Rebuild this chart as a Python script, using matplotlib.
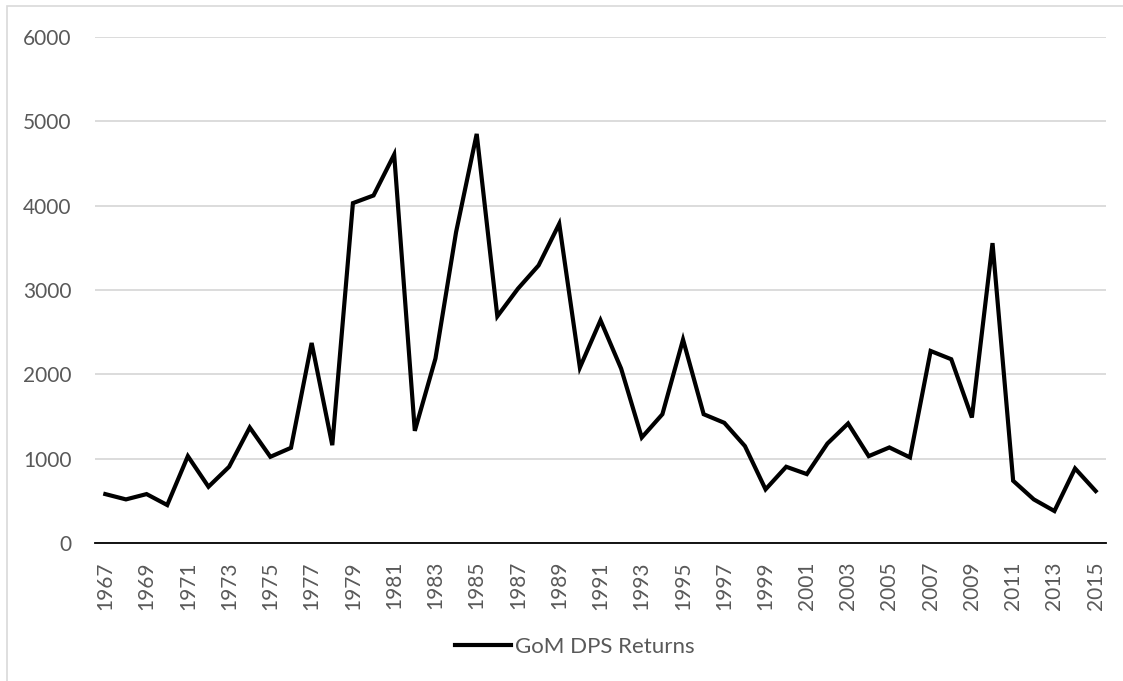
import matplotlib
matplotlib.use("Agg")
from matplotlib import pyplot as plt
from matplotlib.patches import Rectangle
from numpy import arange

years = list(range(1967, 2016))
returns = [580, 517, 580, 450, 1030, 667, 904, 1370, 1022, 1129,
           2372, 1160, 4030, 4121, 4606, 1330, 2187, 3686, 4851, 2688,
           3016, 3292, 3785, 2080, 2641, 2068, 1251, 1527, 2412, 1527,
           1425, 1149, 636, 904, 817, 1180, 1417, 1030, 1133, 1015,
           2277, 2179, 1488, 3556, 738, 517, 379, 884, 616]
series_name = "GoM DPS Returns"
y_ticks = [0, 1000, 2000, 3000, 4000, 5000, 6000]

plt.rcParams['font.family'] = ['Lato', 'DejaVu Sans']
text_color = '#595959'
grid_color = '#d9d9d9'

W, H = 1123, 681
fig = plt.figure(figsize=(W / 100, H / 100), dpi=100)
ax = fig.add_axes([95 / W, 1 - 543 / H, (1106 - 95) / W, (543 - 37) / H])

# outer chart border (only top and left show in the picture)
fig.patches.append(Rectangle((6.5 / W, -0.1), 1.2, 1.1 - 6.5 / H,
                             transform=fig.transFigure, fill=False,
                             edgecolor=grid_color, linewidth=1.2,
                             clip_on=False))

pos = arange(len(years))
line, = ax.plot(pos, returns, color='black', linewidth=3.0,
                solid_joinstyle='miter', label=series_name)

ax.set_xlim(-0.5, len(years) - 0.5)
ax.set_ylim(0, 6000)
ax.set_yticks(y_ticks)
ax.set_yticklabels([str(v) for v in y_ticks])
ax.set_xticks(pos[::2])
ax.set_xticklabels([str(y) for y in years[::2]], rotation=90)

ax.grid(axis='y', color=grid_color, linewidth=1.3)
ax.set_axisbelow(True)
for side in ['top', 'right', 'left']:
    ax.spines[side].set_visible(False)
ax.spines['bottom'].set_color('black')
ax.spines['bottom'].set_linewidth(1.3)
ax.spines['bottom'].set_zorder(1)

ax.tick_params(axis='y', length=0, pad=17, labelsize=15, labelcolor=text_color)
ax.tick_params(axis='x', length=0, pad=13, labelsize=15, labelcolor=text_color)

fig.legend(handles=[line], loc='center', bbox_to_anchor=(575 / W, 1 - 647 / H),
           frameon=False, fontsize=16, labelcolor=text_color,
           handlelength=2.5, handletextpad=0.2)

fig.savefig("out.png", dpi=100)
